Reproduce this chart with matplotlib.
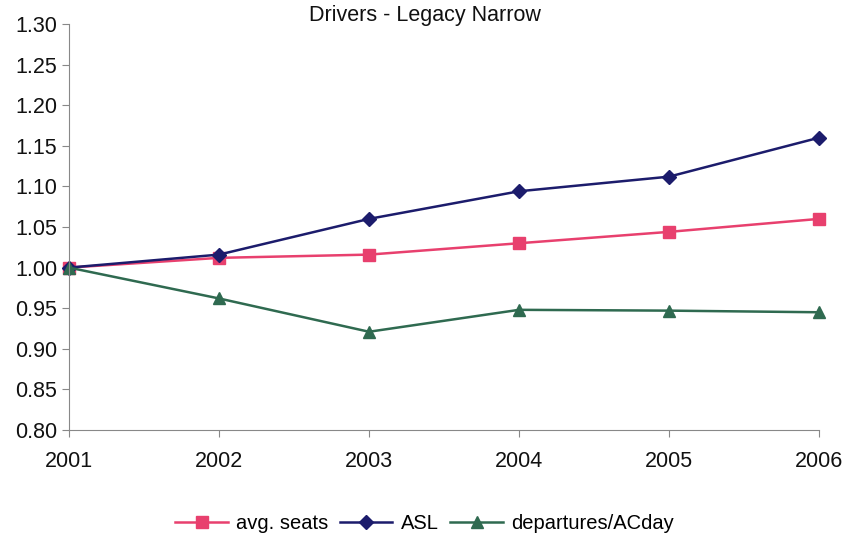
import matplotlib
matplotlib.use('Agg')
import matplotlib.pyplot as plt

plt.rcParams['font.family'] = ['Liberation Sans', 'DejaVu Sans']

years = [2001, 2002, 2003, 2004, 2005, 2006]
avg_seats = [1.000, 1.012, 1.016, 1.030, 1.044, 1.060]
asl = [1.000, 1.016, 1.060, 1.094, 1.112, 1.160]
departures = [1.000, 0.962, 0.921, 0.948, 0.947, 0.945]

fig = plt.figure(figsize=(8.49, 5.43), dpi=100)
ax = fig.add_axes([0.0813, 0.2081, 0.8834, 0.7477])

ax.plot(years, avg_seats, color='#E8406E', marker='s', markersize=8, lw=1.8,
        label='avg. seats', clip_on=False)
ax.plot(years, asl, color='#1C1C6C', marker='D', markersize=7.5, lw=1.8,
        label='ASL', clip_on=False)
ax.plot(years, departures, color='#2F6A50', marker='^', markersize=9, lw=1.8,
        label='departures/ACday', clip_on=False)

ax.set_xlim(2001, 2006)
ax.set_ylim(0.80, 1.30)
ax.set_xticks(years)
ax.set_yticks([0.80 + 0.05 * i for i in range(11)])
ax.yaxis.set_major_formatter(matplotlib.ticker.FormatStrFormatter('%.2f'))
ax.tick_params(labelsize=15.5, color='#888888', length=5)
ax.tick_params(axis='x', pad=10)
for side in ['top', 'right']:
    ax.spines[side].set_visible(False)
for side in ['left', 'bottom']:
    ax.spines[side].set_color('#888888')
for lbl in ax.get_xticklabels() + ax.get_yticklabels():
    lbl.set_color('#111111')

fig.text(0.5, 0.971, 'Drivers - Legacy Narrow', ha='center', va='center',
         fontsize=15.5, color='#111111')
fig.legend(loc='center', bbox_to_anchor=(0.5, 0.036), ncol=3, frameon=False,
           fontsize=14.5, handlelength=2.6, columnspacing=0.6, handletextpad=0.4)

fig.savefig('out.png', dpi=100)
